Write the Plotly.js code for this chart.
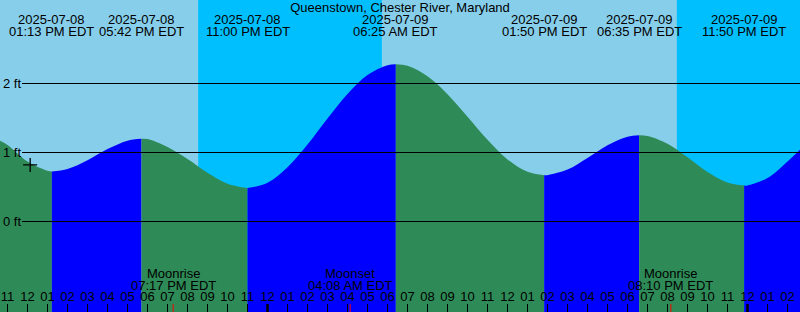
<!DOCTYPE html>
<html>
<head>
<meta charset="utf-8">
<script src="https://cdn.plot.ly/plotly-3.0.1.min.js"></script>
<style>
  html, body { margin: 0; padding: 0; background: #87CEEB; }
  #chart { width: 800px; height: 312px; }
</style>
</head>
<body>
<div id="chart"></div>
<script>
// ---------- DATA ----------
const stationName = 'Queenstown, Chester River, Maryland';

// visible window and tide height at its edges (ft)
const viewStart = '2025-07-08 10:37:30';
const viewEnd = '2025-07-10 02:37:30';
const viewStartHeight = 1.17;
const viewEndHeight = 1.04;

// high / low tides
const extremeTimes = ['2025-07-08 13:13', '2025-07-08 17:42', '2025-07-08 23:00',
                      '2025-07-09 06:25', '2025-07-09 13:50', '2025-07-09 18:35', '2025-07-09 23:50'];
const extremeHeights = [0.725, 1.20, 0.484, 2.28, 0.67, 1.25, 0.52];
const extremeDateLabels = ['2025-07-08', '2025-07-08', '2025-07-08',
                           '2025-07-09', '2025-07-09', '2025-07-09', '2025-07-09'];
const extremeTimeLabels = ['01:13 PM EDT', '05:42 PM EDT', '11:00 PM EDT',
                           '06:25 AM EDT', '01:50 PM EDT', '06:35 PM EDT', '11:50 PM EDT'];

// hourly tide heights (ft), first one at sampleStart
const sampleStart = '2025-07-08 11:00';
const sampleHeights = [
  1.11, 0.87, 0.735, 0.76, 0.887, 1.05, 1.172, 1.194, 1.08, 0.905,
  0.707, 0.548, 0.484, 0.563, 0.788, 1.116, 1.493, 1.849, 2.123, 2.266,
  2.256, 2.106, 1.845, 1.518, 1.183, 0.900, 0.720, 0.672, 0.752, 0.920,
  1.105, 1.228, 1.239, 1.126, 0.930, 0.718, 0.565, 0.522, 0.63, 0.87
];

// night periods (sunset -> sunrise)
const nightStarts = ['2025-07-08 20:32', '2025-07-09 20:28'];
const nightEnds = ['2025-07-09 05:43', '2025-07-10 05:45'];

// moon events
const moonTimes = ['2025-07-08 19:17', '2025-07-09 04:08', '2025-07-09 20:10'];
const moonNames = ['Moonrise', 'Moonset', 'Moonrise'];
const moonTimeLabels = ['07:17 PM EDT', '04:08 AM EDT', '08:10 PM EDT'];

// current time marker
const nowTime = '2025-07-08 12:08';
const nowHeight = 0.82;

// day boundaries
const midnights = ['2025-07-09 00:00', '2025-07-10 00:00'];

// height axis ticks
const levelValues = [0, 1, 2];
const levelLabels = ['0 ft', '1 ft', '2 ft'];

// ---------- STYLE ----------
const W = 800, H = 312;
const DAY_BG = '#87CEEB', NIGHT_BG = '#00BFFF';
const RISE_COLOR = '#0000FF', FALL_COLOR = '#2E8B57';
const FONT = { family: 'Liberation Sans, Arial, sans-serif', size: 13, color: '#000000' };
const Y_RANGE = [-1.3116, 3.2101];
const FLOOR = Y_RANGE[0] - 0.5;

// ---------- BUILD ----------
const parse = s => Date.parse(s.replace(' ', 'T') + 'Z');
const fmt = ms => new Date(ms).toISOString().replace('T', ' ').slice(0, 19);

const sampleT0 = parse(sampleStart);
const samples = sampleHeights.map((h, i) => ({ t: sampleT0 + i * 3600000, h }));

const bTimes = [viewStart, ...extremeTimes, viewEnd].map(parse);
const bHeights = [viewStartHeight, ...extremeHeights, viewEndHeight];

const traces = [];
for (let k = 0; k < bTimes.length - 1; k++) {
  const a = bTimes[k], b = bTimes[k + 1];
  const xs = [a], ys = [bHeights[k]];
  samples.forEach(s => {
    if (s.t > a + 60000 && s.t < b - 60000) { xs.push(s.t); ys.push(s.h); }
  });
  xs.push(b); ys.push(bHeights[k + 1]);
  const color = bHeights[k + 1] > bHeights[k] ? RISE_COLOR : FALL_COLOR;
  traces.push({
    x: [fmt(a), fmt(b)], y: [FLOOR, FLOOR], type: 'scatter', mode: 'lines',
    line: { width: 0 }, hoverinfo: 'skip', showlegend: false
  });
  traces.push({
    x: xs.map(fmt), y: ys, type: 'scatter', mode: 'lines',
    line: { width: 0, shape: 'spline', smoothing: 1, color: color },
    fill: 'tonexty', fillcolor: color, hoverinfo: 'skip', showlegend: false
  });
}
traces.push({
  x: [nowTime], y: [nowHeight], type: 'scatter', mode: 'markers',
  marker: { symbol: 'cross-thin-open', size: 10, color: '#000000',
            line: { color: '#000000', width: 1.3 } },
  hoverinfo: 'skip', showlegend: false
});

const shapes = [];
nightStarts.forEach((s, i) => shapes.push({
  type: 'rect', layer: 'below', xref: 'x', yref: 'paper',
  x0: s, x1: nightEnds[i], y0: 0, y1: 1, fillcolor: NIGHT_BG, line: { width: 0 }
}));
levelValues.forEach(v => shapes.push({
  type: 'line', layer: 'above', xref: 'paper', yref: 'y',
  x0: 22 / W, x1: 1, y0: v, y1: v, line: { color: '#000000', width: 1 }
}));
midnights.forEach(m => shapes.push({
  type: 'line', layer: 'above', xref: 'x', yref: 'paper',
  x0: m, x1: m, y0: 0, y1: 8 / H, line: { color: '#000000', width: 2.5 }
}));
moonTimes.forEach(m => shapes.push({
  type: 'line', layer: 'above', xref: 'x', yref: 'paper',
  x0: m, x1: m, y0: 0, y1: 8 / H, line: { color: '#FF0000', width: 1 }
}));

const annotations = [];
const ann = (x, yc, text) => ({
  x, xref: 'x', y: 1 - yc / H, yref: 'paper', text, showarrow: false,
  xanchor: 'center', yanchor: 'middle', font: FONT
});
extremeTimes.forEach((t, i) => {
  annotations.push(ann(t, 19.5, extremeDateLabels[i]));
  annotations.push(ann(t, 31.5, extremeTimeLabels[i]));
});
moonTimes.forEach((t, i) => {
  annotations.push(ann(t, 273.5, moonNames[i]));
  annotations.push(ann(t, 285.5, moonTimeLabels[i]));
});

const layout = {
  width: W, height: H,
  margin: { l: 0, r: 0, t: 0, b: 0, pad: 0 },
  paper_bgcolor: DAY_BG, plot_bgcolor: DAY_BG,
  showlegend: false,
  title: {
    text: stationName, font: FONT, x: 0.5, xanchor: 'center',
    y: 1 - 7.5 / H, yanchor: 'middle', yref: 'container'
  },
  xaxis: {
    type: 'date', range: [viewStart, viewEnd],
    tick0: '2025-07-08 00:00', dtick: 3600000, tickformat: '%I',
    ticks: 'inside', ticklen: 8, tickwidth: 1, tickcolor: '#000000',
    ticklabelposition: 'inside', ticklabeloverflow: 'allow',
    tickfont: FONT, showgrid: false, zeroline: false, showline: false,
    fixedrange: true
  },
  yaxis: {
    range: Y_RANGE, tickvals: levelValues, ticktext: levelLabels,
    ticklabelposition: 'inside', ticklabeloverflow: 'allow', ticks: '',
    tickfont: FONT, showgrid: false, zeroline: false, showline: false,
    fixedrange: true
  },
  shapes, annotations
};

Plotly.newPlot('chart', traces, layout, { displayModeBar: false, staticPlot: true });
</script>
</body>
</html>
